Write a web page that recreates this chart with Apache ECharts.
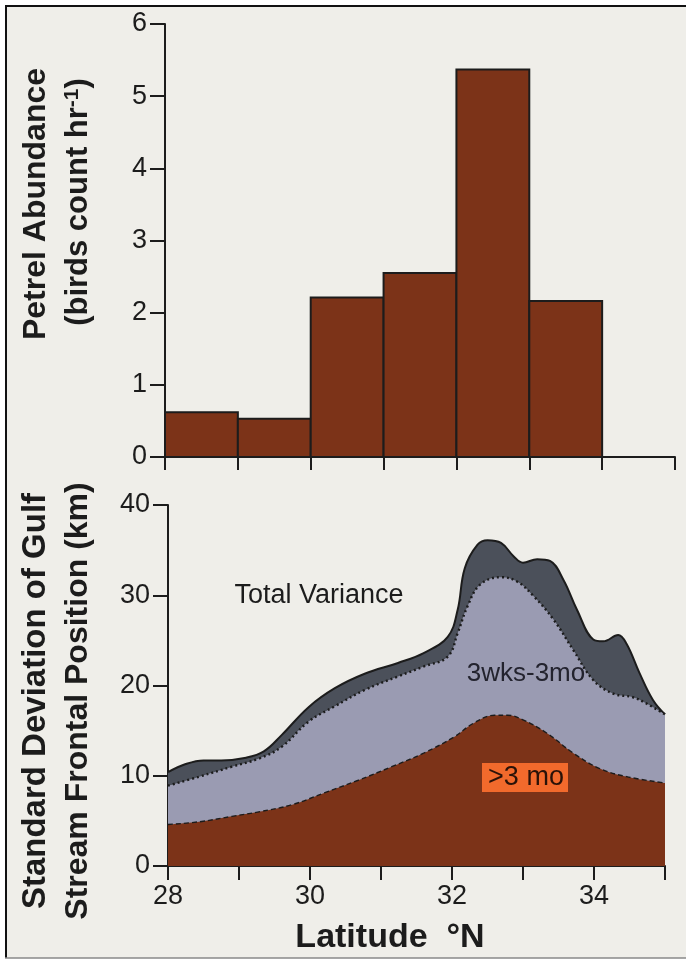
<!DOCTYPE html>
<html><head><meta charset="utf-8">
<style>html,body{margin:0;padding:0;background:#fff;} #c{width:686px;height:960px;}</style>
<script src="https://cdn.jsdelivr.net/npm/echarts@6/dist/echarts.min.js"></script>
</head><body><div id="c"></div>
<script>
// ---- Top panel: petrel abundance histogram (bins of 1 degree latitude)
const binStart = [28, 29, 30, 31, 32, 33];
const binEnd   = [29, 30, 31, 32, 33, 34];
const abundance = [0.62, 0.53, 2.21, 2.55, 5.37, 2.16];
const abundanceTicks = [0, 1, 2, 3, 4, 5, 6];

// ---- Bottom panel: std. dev. of Gulf Stream frontal position (km)
const totalLat = [28.0, 28.25, 28.5, 28.75, 29.1, 29.35, 29.6, 29.98, 30.35, 30.77, 31.24, 31.6, 31.94, 32.08, 32.18, 32.36, 32.5, 32.69, 32.87, 33.0, 33.2, 33.38, 33.57, 33.76, 33.99, 34.13, 34.34, 34.46, 34.64, 34.83, 35.0];
const totalSd  = [10.4, 11.3, 11.7, 11.7, 12.0, 12.7, 14.5, 17.6, 19.7, 21.3, 22.5, 23.6, 25.4, 28.4, 33.0, 35.6, 36.1, 35.8, 34.3, 33.6, 34.0, 33.8, 31.7, 28.4, 25.1, 24.9, 25.6, 24.6, 21.4, 18.4, 16.8];

const midLat = [28.0, 28.44, 28.9, 29.28, 29.6, 29.98, 30.35, 30.77, 31.24, 31.6, 31.94, 32.08, 32.22, 32.4, 32.69, 32.92, 33.15, 33.43, 33.71, 33.99, 34.27, 34.55, 34.74, 35.0];
const midSd  = [8.9, 9.9, 11.0, 11.9, 13.2, 16.0, 17.7, 19.5, 21.0, 22.1, 23.2, 25.8, 28.8, 31.2, 32.0, 31.5, 29.9, 27.3, 23.9, 20.6, 19.1, 18.7, 18.0, 16.8];

const longLat = [28.0, 28.44, 28.9, 29.28, 29.75, 30.2, 30.68, 31.15, 31.6, 32.03, 32.3, 32.6, 32.78, 33.0, 33.34, 33.71, 34.08, 34.46, 35.0];
const longSd  = [4.6, 4.9, 5.5, 6.0, 6.8, 8.1, 9.5, 11.0, 12.5, 14.3, 15.8, 16.7, 16.7, 16.2, 14.7, 12.5, 10.8, 9.9, 9.2];

const latTicks = [28, 29, 30, 31, 32, 33, 34, 35];
const sdTicks = [0, 10, 20, 30, 40];

const FONT = '"Liberation Sans", Arial, Helvetica, sans-serif';
const BROWN = '#7c3318';
const INK = '#1c1c1c';
const BG = '#efeee9';

const zip = (a, b) => a.map((v, i) => [v, b[i]]);

const chart = echarts.init(document.getElementById('c'), null, {renderer: 'canvas'});

const axisLineStyle = {show: true, lineStyle: {color: INK, width: 2}};

chart.setOption({
  backgroundColor: '#ffffff',
  animation: false,
  grid: [
    {left: 165, right: 11, top: 24, height: 433},
    {left: 168, right: 21, top: 505, height: 361}
  ],
  xAxis: [
    {gridIndex: 0, type: 'value', min: 28, max: 35, interval: 1,
     axisLine: axisLineStyle, axisTick: {show: true, length: 13, lineStyle: {color: INK, width: 2}},
     axisLabel: {show: false}, splitLine: {show: false}},
    {gridIndex: 1, type: 'value', min: 28, max: 35, interval: 1,
     axisLine: axisLineStyle, axisTick: {show: true, length: 14, lineStyle: {color: INK, width: 2}},
     axisLabel: {show: true, fontSize: 27, color: INK, fontFamily: FONT, margin: 17,
                 formatter: v => (v % 2 === 0 ? String(v) : '')},
     splitLine: {show: false}}
  ],
  yAxis: [
    {gridIndex: 0, type: 'value', min: 0, max: 6, interval: 1,
     axisLine: axisLineStyle, axisTick: {show: true, length: 15, lineStyle: {color: INK, width: 2}},
     axisLabel: {fontSize: 27, color: INK, fontFamily: FONT, margin: 18},
     splitLine: {show: false}},
    {gridIndex: 1, type: 'value', min: 0, max: 40, interval: 10,
     axisLine: axisLineStyle, axisTick: {show: true, length: 15, lineStyle: {color: INK, width: 2}},
     axisLabel: {fontSize: 27, color: INK, fontFamily: FONT, margin: 18},
     splitLine: {show: false}}
  ],
  series: [
    {type: 'custom', xAxisIndex: 0, yAxisIndex: 0,
     data: binStart.map((s, i) => [s, binEnd[i], abundance[i]]),
     encode: {x: [0, 1], y: 2},
     renderItem: function (params, api) {
       const p0 = api.coord([api.value(0), api.value(2)]);
       const p1 = api.coord([api.value(1), 0]);
       return {type: 'rect',
         shape: {x: p0[0], y: p0[1], width: p1[0] - p0[0], height: p1[1] - p0[1]},
         style: {fill: BROWN, stroke: INK, lineWidth: 2}};
     }},
    {name: 'Total Variance', type: 'line', xAxisIndex: 1, yAxisIndex: 1,
     data: zip(totalLat, totalSd), smooth: 0.4, symbol: 'none',
     lineStyle: {color: INK, width: 2},
     areaStyle: {color: '#4b505a', opacity: 1}, z: 2},
    {name: '3wks-3mo', type: 'line', xAxisIndex: 1, yAxisIndex: 1,
     data: zip(midLat, midSd), smooth: 0.4, symbol: 'none',
     lineStyle: {color: INK, width: 2.4, type: [2, 3]},
     areaStyle: {color: '#9a9bb2', opacity: 1}, z: 3},
    {name: '>3 mo', type: 'line', xAxisIndex: 1, yAxisIndex: 1,
     data: zip(longLat, longSd), smooth: 0.4, symbol: 'none',
     lineStyle: {color: INK, width: 1.4, type: [5, 3]},
     areaStyle: {color: BROWN, opacity: 1}, z: 4}
  ],
  graphic: [
    {type: 'rect', z: -10, silent: true, shape: {x: 6, y: 6, width: 680, height: 952}, style: {fill: BG}},
    {type: 'line', z: 100, shape: {x1: 5, y1: 6, x2: 686, y2: 6}, style: {stroke: '#111', lineWidth: 2}},
    {type: 'line', z: 100, shape: {x1: 6, y1: 5, x2: 6, y2: 958}, style: {stroke: '#111', lineWidth: 2}},
    {type: 'line', z: 100, shape: {x1: 5, y1: 958, x2: 686, y2: 958}, style: {stroke: '#888', lineWidth: 1.5}},
    // y titles top
    {type: 'text', x: 36, y: 204, rotation: Math.PI / 2, z: 50,
     style: {text: 'Petrel Abundance', font: 'bold 32px ' + FONT, fill: INK, align: 'center', verticalAlign: 'middle'}},
    {type: 'text', x: 78, y: 202, rotation: Math.PI / 2, z: 50,
     style: {text: '(birds count hr{sup|-1})', font: 'bold 31px ' + FONT, fill: INK, align: 'center', verticalAlign: 'middle',
       rich: {sup: {fontSize: 21, fontWeight: 'bold', fontFamily: FONT, verticalAlign: 'top', padding: [0, 0, 12, 0]}}}},
    // y titles bottom
    {type: 'text', x: 36, y: 701, rotation: Math.PI / 2, z: 50,
     style: {text: 'Standard Deviation of Gulf', font: 'bold 33px ' + FONT, fill: INK, align: 'center', verticalAlign: 'middle'}},
    {type: 'text', x: 78, y: 701, rotation: Math.PI / 2, z: 50,
     style: {text: 'Stream Frontal Position (km)', font: 'bold 32px ' + FONT, fill: INK, align: 'center', verticalAlign: 'middle'}},
    // x title
    {type: 'text', x: 390, y: 938, z: 50,
     style: {text: 'Latitude  \u00b0N', font: 'bold 34px ' + FONT, fill: INK, align: 'center', verticalAlign: 'middle'}},
    // annotations
    {type: 'text', x: 319, y: 596, z: 50,
     style: {text: 'Total Variance', font: '27px ' + FONT, fill: INK, align: 'center', verticalAlign: 'middle'}},
    {type: 'text', x: 526, y: 674, z: 50,
     style: {text: '3wks-3mo', font: '26px ' + FONT, fill: '#23232e', align: 'center', verticalAlign: 'middle'}},
    {type: 'rect', z: 49, shape: {x: 482, y: 763, width: 86, height: 29}, style: {fill: '#f26a2c'}},
    {type: 'text', x: 526, y: 778, z: 50,
     style: {text: '>3 mo', font: '27px ' + FONT, fill: '#2a1208', align: 'center', verticalAlign: 'middle'}}
  ]
});
</script></body></html>
